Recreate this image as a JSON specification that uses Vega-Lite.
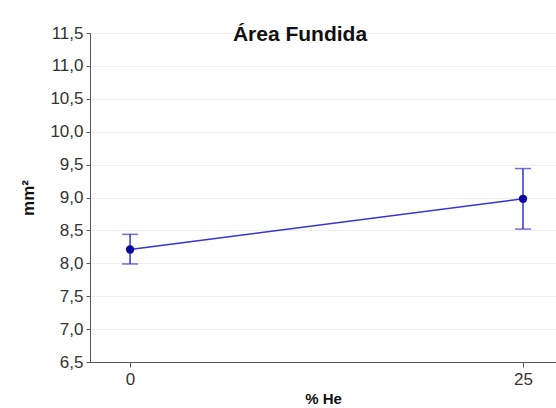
{
  "$schema": "https://vega.github.io/schema/vega-lite/v6.json",
  "autosize": {"type": "none"},
  "padding": {"left": 90, "top": 33, "right": 0, "bottom": 46},
  "width": 466,
  "height": 329,
  "background": "white",
  "config": {
    "locale": {"number": {"decimal": ",", "thousands": ".", "grouping": [3], "currency": ["", " €"]}},
    "view": {"stroke": null},
    "font": "Liberation Sans",
    "axisY": {
      "values": [6.5, 7, 7.5, 8, 8.5, 9, 9.5, 10, 10.5, 11, 11.5],
      "format": ".1f",
      "labelOverlap": false,
      "labelFlush": false,
      "grid": true,
      "gridColor": "#eeeeee",
      "gridWidth": 1,
      "labelFontSize": 17,
      "labelColor": "#333333",
      "labelPadding": 3,
      "tickSize": 4,
      "tickColor": "#555555",
      "domainColor": "#555555",
      "titleFontSize": 17,
      "titleFontWeight": "bold",
      "titleColor": "#111111",
      "titlePadding": 12
    }
  },
  "title": {
    "text": "Área Fundida",
    "font": "Liberation Sans",
    "fontSize": 21,
    "fontWeight": "bold",
    "color": "#111111",
    "offset": -21,
    "dx": -23
  },
  "data": {
    "values": [
      {"he": 0, "mean": 8.21, "lo": 7.99, "hi": 8.44},
      {"he": 25, "mean": 8.98, "lo": 8.52, "hi": 9.44}
    ]
  },
  "encoding": {
    "x": {
      "field": "he",
      "type": "quantitative",
      "title": "% He",
      "scale": {"domain": [-2.55, 27.1], "nice": false, "zero": false},
      "axis": {
        "values": [0, 25],
        "grid": false,
        "labelFontSize": 17,
        "labelColor": "#333333",
        "labelPadding": 4,
        "tickSize": 5,
        "tickColor": "#555555",
        "domainColor": "#555555",
        "titleFontSize": 15,
        "titleFontWeight": "bold",
        "titleColor": "#111111",
        "titlePadding": 4
      }
    },
    "y": {
      "field": "mean",
      "type": "quantitative",
      "title": "mm²",
      "scale": {"domain": [6.5, 11.5], "nice": false, "zero": false}
    }
  },
  "layer": [
    {
      "mark": {"type": "line", "color": "#3434d0", "strokeWidth": 1.5}
    },
    {
      "mark": {"type": "errorbar", "color": "#3434d0", "thickness": 1.5, "ticks": {"size": 16, "color": "#3434d0", "thickness": 1.5}},
      "encoding": {
        "y": {"field": "lo", "type": "quantitative", "title": "mm²", "scale": {"domain": [6.5, 11.5], "nice": false, "zero": false}},
        "y2": {"field": "hi"}
      }
    },
    {
      "mark": {"type": "point", "filled": true, "color": "#0a0aa0", "size": 70, "opacity": 1}
    }
  ]
}
